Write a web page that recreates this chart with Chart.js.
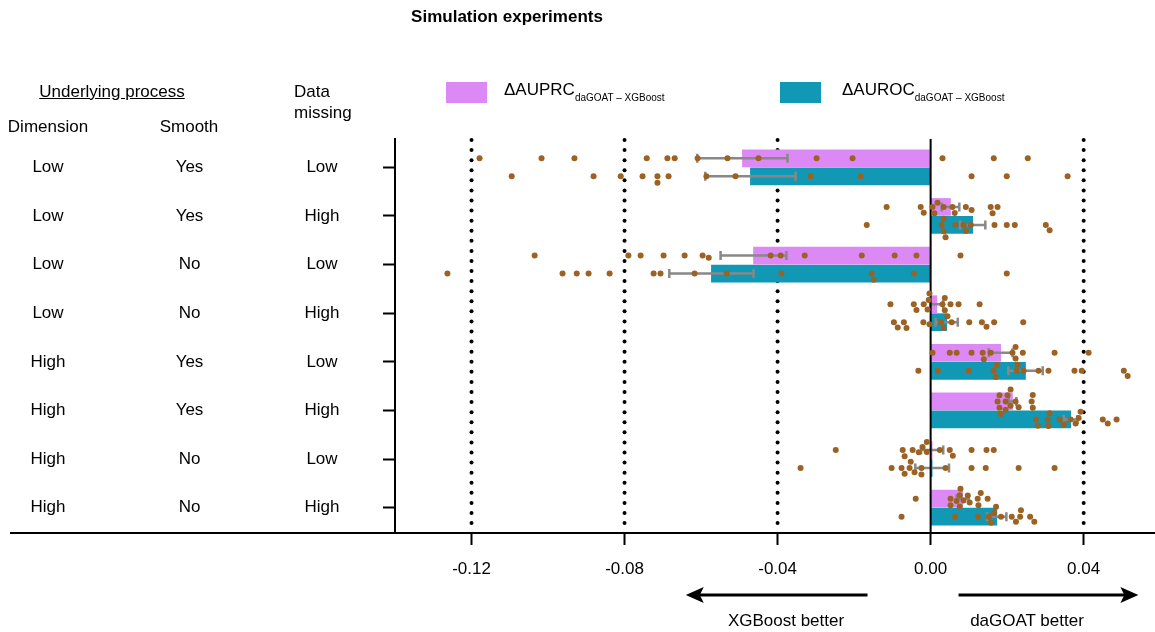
<!DOCTYPE html>
<html>
<head>
<meta charset="utf-8">
<script src="https://cdn.jsdelivr.net/npm/chart.js@4.4.1/dist/chart.umd.min.js"></script>
<style>
  body { margin: 0; background: #fff; font-family: "Liberation Sans", Arial, sans-serif; }
  #wrap { position: relative; width: 1155px; height: 632px; overflow: hidden; }
  #myChart { position: absolute; left: 0; top: 0; }
  .t { position: absolute; font-size: 17px; line-height: 1; color: #000; white-space: nowrap; }
  .c { transform: translateX(-50%); }
  .box { position: absolute; width: 41px; height: 21px; }
  sub { font-size: 10px; line-height: 0; vertical-align: -6px; }
</style>
</head>
<body>
<div id="wrap">
  <canvas id="myChart" width="1155" height="632"></canvas>
  <div class="t c" style="left:507px;top:8px;font-weight:bold">Simulation experiments</div>

  <div class="box" style="left:446px;top:82px;background:#dd89f5"></div>
  <div class="t" style="left:504px;top:81px">ΔAUPRC<sub>daGOAT – XGBoost</sub></div>
  <div class="box" style="left:780px;top:82px;background:#1098b4"></div>
  <div class="t" style="left:842px;top:81px">ΔAUROC<sub>daGOAT – XGBoost</sub></div>

  <div class="t c" style="left:112px;top:83px;text-decoration:underline">Underlying process</div>
  <div class="t c" style="left:48px;top:118px">Dimension</div>
  <div class="t c" style="left:189px;top:118px">Smooth</div>
  <div class="t" style="left:294px;top:83px">Data</div>
  <div class="t" style="left:294px;top:104px">missing</div>

  <div class="t c" style="left:786px;top:612px">XGBoost better</div>
  <div class="t c" style="left:1027px;top:612px">daGOAT better</div>
</div>
<script>
  // rows of the table on the left
  var dimension = ['Low', 'Low', 'Low', 'Low', 'High', 'High', 'High', 'High'];
  var smooth = ['Yes', 'Yes', 'No', 'No', 'Yes', 'Yes', 'No', 'No'];
  var dataMissing = ['Low', 'High', 'Low', 'High', 'Low', 'High', 'Low', 'High'];

  // bar means and error (SEM)
  var auprcMean = [-0.0492, 0.0052, -0.0463, 0.0016, 0.0183, 0.0214, 0.0004, 0.0084];
  var aurocMean = [-0.0471, 0.0110, -0.0573, 0.0042, 0.0248, 0.0366, 0.0004, 0.0173];
  var auprcErr = [0.0118, 0.0023, 0.0086, 0.0017, 0.0031, 0.0010, 0.0029, 0.0016];
  var aurocErr = [0.0118, 0.0033, 0.0110, 0.0029, 0.0045, 0.0018, 0.0044, 0.0025];

  // single replicates
  var auprcPoints = [
    [-0.1179, -0.1017, -0.0931, -0.0742, -0.0688, -0.0669, -0.0609, -0.0531, -0.0450, -0.0298, -0.0204, 0.0031, 0.0165, 0.0254],
    [-0.0115, -0.0026, -0.0018, 0.0005, 0.0010, 0.0018, 0.0034, 0.0057, 0.0063, 0.0092, 0.0107, 0.0157, 0.0162, 0.0175],
    [-0.1035, -0.0790, -0.0758, -0.0698, -0.0643, -0.0596, -0.0580, -0.0418, -0.0392, -0.0329, -0.0180, -0.0094, -0.0037, 0.0078],
    [-0.0105, -0.0044, -0.0037, -0.0018, -0.0008, -0.0005, -0.0003, 0.0031, 0.0037, 0.0037, 0.0044, 0.0052, 0.0073, 0.0128],
    [0.0005, 0.0050, 0.0068, 0.0107, 0.0136, 0.0139, 0.0157, 0.0214, 0.0222, 0.0222, 0.0227, 0.0241, 0.0324, 0.0413],
    [0.0175, 0.0180, 0.0180, 0.0183, 0.0196, 0.0196, 0.0201, 0.0209, 0.0209, 0.0222, 0.0230, 0.0264, 0.0267, 0.0267],
    [-0.0248, -0.0073, -0.0068, -0.0047, -0.0031, -0.0021, -0.0010, -0.0010, 0.0024, 0.0050, 0.0058, 0.0107, 0.0146, 0.0165],
    [-0.0039, 0.0052, 0.0052, 0.0068, 0.0076, 0.0076, 0.0078, 0.0086, 0.0097, 0.0102, 0.0123, 0.0125, 0.0131, 0.0149]
  ];
  var aurocPoints = [
    [-0.1095, -0.0881, -0.0810, -0.0753, -0.0714, -0.0714, -0.0685, -0.0586, -0.0510, -0.0314, -0.0183, 0.0107, 0.0199, 0.0358],
    [-0.0167, 0.0029, 0.0034, 0.0034, 0.0039, 0.0065, 0.0086, 0.0092, 0.0105, 0.0167, 0.0199, 0.0220, 0.0301, 0.0311],
    [-0.1263, -0.0962, -0.0925, -0.0894, -0.0839, -0.0724, -0.0706, -0.0617, -0.0533, -0.0390, -0.0154, -0.0149, -0.0044, 0.0199],
    [-0.0096, -0.0086, -0.0070, -0.0063, -0.0019, -0.0003, 0.0027, 0.0034, 0.0055, 0.0101, 0.0134, 0.0146, 0.0166, 0.0242],
    [-0.0032, 0.0019, 0.0099, 0.0165, 0.0170, 0.0173, 0.0225, 0.0243, 0.0282, 0.0308, 0.0376, 0.0395, 0.0505, 0.0515],
    [0.0275, 0.0280, 0.0306, 0.0308, 0.0311, 0.0337, 0.0348, 0.0366, 0.0379, 0.0387, 0.0392, 0.0450, 0.0463, 0.0486],
    [-0.0340, -0.0102, -0.0076, -0.0068, -0.0055, -0.0052, -0.0042, -0.0024, -0.0024, 0.0039, 0.0107, 0.0144, 0.0230, 0.0324],
    [-0.0076, 0.0064, 0.0124, 0.0152, 0.0158, 0.0166, 0.0171, 0.0184, 0.0212, 0.0223, 0.0234, 0.0236, 0.0260, 0.0271]
  ];

  var xTicks = [-0.12, -0.08, -0.04, 0, 0.04];
  var refLines = [-0.12, -0.08, -0.04, 0.04];

  var xMin = -0.14, xMax = 0.0576;
  var barShift = 0.185; // pink above, teal below the row centre
  var labels = dimension.map(function (d, i) { return d + ' / ' + smooth[i] + ' / ' + dataMissing[i]; });

  // simple beeswarm so overlapping dots are stacked around the bar centre
  var pxPerUnit = 756 / (xMax - xMin);
  var rowPx = 389 / 8;
  function swarm(vals, shift) {
    var diam = 6.5;
    var placed = [];
    vals.forEach(function (v) {
      var x = v * pxPerUnit;
      var near = placed.filter(function (p) { return Math.abs(p.x - x) < diam; });
      var cands = [0];
      near.forEach(function (p) {
        var h = Math.sqrt(diam * diam - (p.x - x) * (p.x - x));
        cands.push(p.y + h, p.y - h);
      });
      cands.sort(function (a, b) { return Math.abs(a) - Math.abs(b) || b - a; });
      var y = cands.find(function (c) {
        return near.every(function (p) { return (p.x - x) * (p.x - x) + (p.y - c) * (p.y - c) >= diam * diam - 0.01; });
      });
      placed.push({ x: x, y: y });
    });
    return placed.map(function (p) { return { x: p.x / pxPerUnit, y: shift + p.y / rowPx }; });
  }
  function dotsFor(points, side) {
    var res = [];
    points.forEach(function (row, i) {
      res = res.concat(swarm(row, i + side * barShift));
    });
    return res;
  }
  function barsFor(vals, side) {
    return vals.map(function (v, i) { return { x: v, y: i + side * barShift }; });
  }

  var errors = [auprcErr, aurocErr];
  var means = [auprcMean, aurocMean];

  var extras = {
    id: 'extras',
    beforeDatasetsDraw: function (chart) {
      var ctx = chart.ctx, area = chart.chartArea, x = chart.scales.x;
      ctx.save();
      ctx.fillStyle = '#000';
      refLines.forEach(function (v) {
        var px = x.getPixelForValue(v);
        for (var y = area.top - 3; y <= area.bottom - 8; y += 10.08) {
          ctx.beginPath();
          ctx.arc(px, y, 2, 0, Math.PI * 2);
          ctx.fill();
        }
      });
      ctx.restore();
    },
    afterDatasetDraw: function (chart, args) {
      if (args.index > 1) return;
      var ctx = chart.ctx, x = chart.scales.x, area = chart.chartArea;
      var m = means[args.index], e = errors[args.index];
      ctx.save();
      ctx.strokeStyle = '#888888';
      ctx.lineWidth = 2.5;
      args.meta.data.forEach(function (bar, j) {
        var lo = x.getPixelForValue(m[j] - e[j]);
        var hi = x.getPixelForValue(m[j] + e[j]);
        ctx.beginPath();
        ctx.moveTo(lo, bar.y); ctx.lineTo(hi, bar.y);
        ctx.moveTo(lo, bar.y - 4.5); ctx.lineTo(lo, bar.y + 4.5);
        ctx.moveTo(hi, bar.y - 4.5); ctx.lineTo(hi, bar.y + 4.5);
        ctx.stroke();
      });
      // pink bars are drawn last, so the zero line goes on top of both
      if (args.index === 0) {
        var z = x.getPixelForValue(0);
        ctx.strokeStyle = '#000';
        ctx.lineWidth = 2;
        ctx.beginPath();
        ctx.moveTo(z, area.top - 4); ctx.lineTo(z, area.bottom);
        ctx.stroke();
      }
      ctx.restore();
    },
    afterDraw: function (chart) {
      var ctx = chart.ctx, area = chart.chartArea, x = chart.scales.x, yS = chart.scales.y;
      ctx.save();
      ctx.strokeStyle = '#000';
      ctx.lineWidth = 2;
      ctx.beginPath();
      ctx.moveTo(area.left, area.top - 5); ctx.lineTo(area.left, area.bottom + 1);
      ctx.moveTo(10, area.bottom + 1); ctx.lineTo(chart.width, area.bottom + 1);
      ctx.stroke();

      // table text
      ctx.fillStyle = '#000';
      ctx.font = '17px "Liberation Sans", Arial, sans-serif';
      ctx.textAlign = 'center';
      ctx.textBaseline = 'middle';
      var cols = [[dimension, 48], [smooth, 189.5], [dataMissing, 322]];
      labels.forEach(function (l, i) {
        var py = yS.getPixelForValue(i);
        cols.forEach(function (c) { ctx.fillText(c[0][i], c[1], py); });
      });

      // arrows under the axis
      var ay = area.bottom + 63;
      function arrow(from, to) {
        var x1 = x.getPixelForValue(from), x2 = x.getPixelForValue(to);
        var dir = x2 > x1 ? 1 : -1;
        ctx.lineWidth = 3;
        ctx.beginPath();
        ctx.moveTo(x1, ay); ctx.lineTo(x2 - dir * 10, ay);
        ctx.stroke();
        ctx.beginPath();
        ctx.moveTo(x2, ay);
        ctx.lineTo(x2 - dir * 18, ay - 8);
        ctx.lineTo(x2 - dir * 14, ay);
        ctx.lineTo(x2 - dir * 18, ay + 8);
        ctx.closePath();
        ctx.fill();
      }
      arrow(-0.0165, -0.064);
      arrow(0.0073, 0.0543);
      ctx.restore();
    }
  };

  new Chart('myChart', {
    type: 'bar',
    data: {
      datasets: [{
        label: 'ΔAUPRC',
        data: barsFor(auprcMean, -1),
        yAxisID: 'yDots',
        backgroundColor: '#dd89f5',
        grouped: false,
        barThickness: 17,
        order: 1
      }, {
        label: 'ΔAUROC',
        data: barsFor(aurocMean, 1),
        yAxisID: 'yDots',
        backgroundColor: '#1098b4',
        grouped: false,
        barThickness: 17,
        order: 2
      }, {
        type: 'scatter',
        label: 'AUPRC runs',
        data: dotsFor(auprcPoints, -1),
        yAxisID: 'yDots',
        backgroundColor: '#9b6223',
        borderWidth: 0,
        pointRadius: 3,
        order: 0
      }, {
        type: 'scatter',
        label: 'AUROC runs',
        data: dotsFor(aurocPoints, 1),
        yAxisID: 'yDots',
        backgroundColor: '#9b6223',
        borderWidth: 0,
        pointRadius: 3,
        order: 0
      }]
    },
    options: {
      indexAxis: 'y',
      responsive: false,
      animation: false,
      layout: { padding: { left: 383, top: 143, right: 0, bottom: 0 } },
      plugins: {
        legend: { display: false },
        tooltip: { enabled: false }
      },
      scales: {
        x: {
          type: 'linear',
          min: xMin,
          max: xMax,
          afterBuildTicks: function (scale) {
            scale.ticks = xTicks.map(function (v) { return { value: v }; });
          },
          afterFit: function (scale) { scale.height = 100; },
          ticks: {
            color: '#000',
            font: { family: '"Liberation Sans", Arial, sans-serif', size: 17 },
            padding: 14,
            maxRotation: 0,
            autoSkip: false,
            callback: function (v) { return v.toFixed(2); }
          },
          grid: {
            drawOnChartArea: false,
            drawTicks: true,
            tickLength: 13,
            tickWidth: 2,
            tickColor: '#000'
          },
          border: { display: false }
        },
        y: {
          type: 'category',
          labels: labels,
          offset: true,
          afterFit: function (scale) { scale.width = 12; },
          ticks: { display: false },
          grid: {
            offset: false,
            drawOnChartArea: false,
            drawTicks: true,
            tickLength: 12,
            tickWidth: 2,
            tickColor: '#000'
          },
          border: { display: false }
        },
        yDots: {
          type: 'linear',
          axis: 'y',
          display: false,
          offset: false,
          min: -0.5,
          max: 7.5,
          reverse: true
        }
      }
    },
    plugins: [extras]
  });
</script>
</body>
</html>
